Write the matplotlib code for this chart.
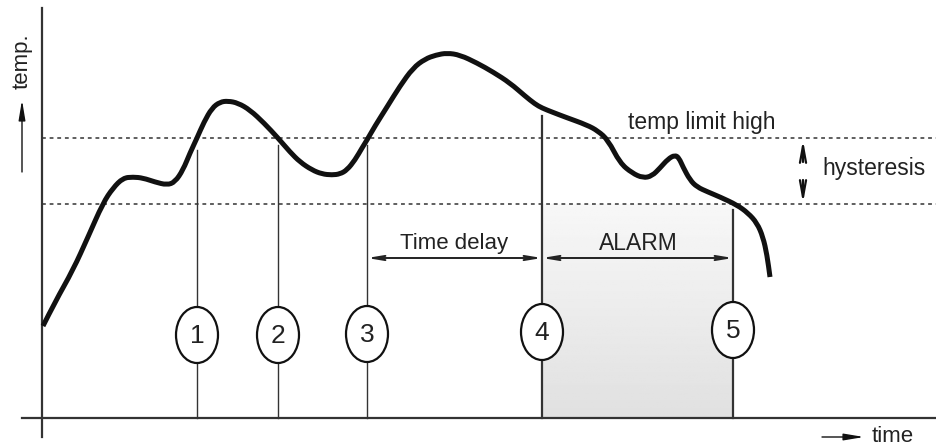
import numpy as np
import matplotlib
matplotlib.use('Agg')
import matplotlib.pyplot as plt
from matplotlib.patches import Ellipse, PathPatch
from matplotlib.path import Path

plt.rcParams['font.family'] = ['Liberation Sans', 'DejaVu Sans']

# temperature curve (x right, y down, pixel units)
curve_x = [43, 55, 73, 88, 103, 113, 123, 133, 143, 155, 167, 175, 183, 190, 197,
           204, 212, 220, 228, 238, 250, 264, 278, 290, 300, 312, 322, 332, 340, 347,
           355, 362, 367, 375, 387, 400, 413, 425, 436, 447, 460, 477, 493, 510, 525,
           535, 542, 552, 565, 587, 598, 608, 620, 632, 643, 652, 660, 668, 675, 679,
           683, 690, 697, 708, 720, 737, 748, 757, 763, 767, 770]
curve_y = [326, 302, 270, 237, 203, 188, 178, 177, 178, 182, 185, 182, 170, 153, 138,
           122, 108, 102, 101, 103, 110, 123, 138, 152, 162, 170, 174, 175, 174, 170,
           160, 148, 140, 126, 107, 86, 68, 59, 55, 53, 55, 63, 72, 83, 96,
           104, 108, 112, 117, 125, 131, 140, 163, 173, 178, 176, 168, 159, 155, 158,
           167, 180, 187, 192, 197, 205, 213, 223, 237, 255, 277]

limit_high = 138
limit_low = 204

# event markers
events = ['1', '2', '3', '4', '5']
event_x = [197, 278, 367, 542, 733]
event_top = [150, 145, 145, 116, 210]
event_cy = [335, 335, 334, 332, 330]

axis_y = 418
axis_x = 42

fig = plt.figure(figsize=(9.37, 4.46), dpi=100)
ax = fig.add_axes([0, 0, 1, 1])
ax.set_xlim(0, 937)
ax.set_ylim(446, 0)
ax.axis('off')

# alarm shading with a soft vertical gradient
grad = np.linspace(0.97, 0.88, 100).reshape(-1, 1)
ax.imshow(grad, cmap='gray', vmin=0, vmax=1, aspect='auto',
          extent=[event_x[3], event_x[4], axis_y, limit_low], zorder=0)

# axes
ax.plot([axis_x, axis_x], [8, 437], color='#333333', lw=1.6, zorder=3)
ax.plot([22, 937], [axis_y, axis_y], color='#333333', lw=1.6, zorder=3)

# limits
for ly in [limit_high, limit_low]:
    ax.plot([axis_x, 937], [ly, ly], color='#333333', lw=1.1,
            linestyle=(0, (2.5, 2.5)), zorder=2)

# event lines and circles
for i in range(len(events)):
    lw = 1.0 if i < 3 else 1.6
    ax.plot([event_x[i], event_x[i]], [event_top[i], axis_y], color='#333333',
            lw=lw, zorder=2)
    ax.add_patch(Ellipse((event_x[i], event_cy[i]), 42, 56, facecolor='white',
                         edgecolor='#111111', lw=1.6, zorder=4))
    ax.text(event_x[i], event_cy[i] + 1, events[i], ha='center', va='center',
            fontsize=19, color='#222222', zorder=5)

# curve: read points used as quadratic bezier controls so the line is drawn smooth
pts = list(zip(curve_x, curve_y))
verts = [pts[0]]
codes = [Path.MOVETO]
for i in range(1, len(pts) - 1):
    mid = ((pts[i][0] + pts[i + 1][0]) / 2, (pts[i][1] + pts[i + 1][1]) / 2)
    verts += [pts[i], mid]
    codes += [Path.CURVE3, Path.CURVE3]
verts.append(pts[-1])
codes.append(Path.LINETO)
ax.add_patch(PathPatch(Path(verts, codes), facecolor='none', edgecolor='#111111',
                       lw=3.6, capstyle='butt', joinstyle='round', zorder=4))

# time delay / alarm arrows
arrow_y = 258
ax.annotate('', xy=(event_x[2], arrow_y), xytext=(event_x[3], arrow_y),
            arrowprops=dict(arrowstyle='<->,head_length=0.9,head_width=0.15',
                            color='#222222', lw=1.4, shrinkA=0, shrinkB=0))
ax.annotate('', xy=(event_x[3], arrow_y), xytext=(event_x[4], arrow_y),
            arrowprops=dict(arrowstyle='<->,head_length=0.9,head_width=0.15',
                            color='#222222', lw=1.4, shrinkA=0, shrinkB=0))
ax.text((event_x[2] + event_x[3]) / 2, 243, 'Time delay', ha='center',
        va='center', fontsize=16, color='#222222')
ax.text((event_x[3] + event_x[4]) / 2 + 1, 243, 'ALARM', ha='center',
        va='center', fontsize=16.5, color='#222222')

# hysteresis
hx = 803
ax.annotate('', xy=(hx, limit_high + 2), xytext=(hx, 162),
            arrowprops=dict(arrowstyle='->,head_length=1.2,head_width=0.22',
                            color='#111111', lw=1.6, shrinkA=0, shrinkB=0))
ax.annotate('', xy=(hx, limit_low - 1), xytext=(hx, 180),
            arrowprops=dict(arrowstyle='->,head_length=1.2,head_width=0.22',
                            color='#111111', lw=1.6, shrinkA=0, shrinkB=0))
ax.text(822, 169, 'hysteresis', ha='left', va='center', fontsize=16.5,
        color='#222222')
ax.text(628, 122, 'temp limit high', ha='left', va='center', fontsize=16.5,
        color='#222222')

# axis labels with arrows
ax.annotate('', xy=(22, 100), xytext=(22, 172),
            arrowprops=dict(arrowstyle='-|>,head_length=1.2,head_width=0.2',
                            color='#111111', lw=1.0, shrinkA=0, shrinkB=0))
ax.text(22, 61, 'temp.', rotation=90, ha='center', va='center', fontsize=16,
        color='#222222')
ax.annotate('', xy=(864, 437), xytext=(822, 437),
            arrowprops=dict(arrowstyle='-|>,head_length=1.2,head_width=0.2',
                            color='#111111', lw=1.0, shrinkA=0, shrinkB=0))
ax.text(872, 436, 'time', ha='left', va='center', fontsize=16, color='#222222')

plt.savefig('out.png', dpi=100)
